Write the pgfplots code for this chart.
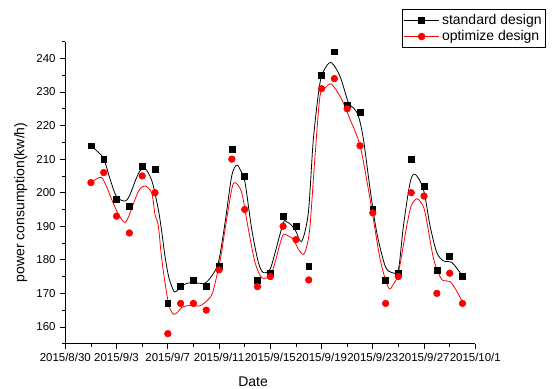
\documentclass[border=0pt]{standalone}
\usepackage{pgfplots}
\pgfplotsset{compat=1.18}
\usepackage{pgfplotstable}
\usepackage{fontspec}
\setmainfont{Liberation Sans}

% day index: 0 = 2015/8/30, 2 = 2015/9/1, ...
\pgfplotstableread{
d std opt
2 214 203
3 210 206
4 198 193
5 196 188
6 208 205
7 207 200
8 167 158
9 172 167
10 174 167
11 172 165
12 178 177
13 213 210
14 205 195
15 174 172
16 176 175
17 193 190
18 190 186
19 178 174
20 235 231
21 242 234
22 226 225
23 224 214
24 195 194
25 174 167
26 176 175
27 210 200
28 202 199
29 177 170
30 181 176
31 175 167
}\points

\pgfplotstableread{
d v
2 214
2.5 212.3
3 210.1
3.5 204
4 198.8
4.66 197.5
5 199
5.5 203.9
5.83 206.5
6.22 207.2
6.6 205
6.87 202
7.26 195
7.5 189.1
7.78 181.1
8.05 175.2
8.3 172.2
8.56 170.4
9.09 172.2
9.5 173
9.86 173.2
10.5 173
10.9 173
11.43 175.2
11.95 179.2
12.47 191.1
12.99 205
13.38 208.2
13.7 206.5
14.03 203
14.55 189.1
15.07 179.2
15.46 176.2
15.98 177.2
16.4 182.5
17.02 191.1
17.28 191.3
17.6 190.5
18.0 188.5
18.45 185.5
18.97 194.1
19.36 215.9
19.88 232.8
20.35 237.5
20.79 238.7
21.44 234.7
22.1 226.8
22.49 225.3
22.88 222.8
23.27 215.9
23.79 201
24.31 188.1
24.96 178.2
25.48 176.2
26.0 177.2
26.39 190.1
26.91 203
27.3 205.5
27.95 201
28.47 190.1
28.99 182.2
29.51 179.7
30.16 179.2
30.81 176.2
31 175.2
}\stdcurve

\pgfplotstableread{
d v
2.05 203.2
2.5 204.2
2.84 204.5
3.2 202
3.62 198
4.14 193.6
4.66 191.1
5.05 193.9
5.44 198
5.8 201
6.22 202
6.74 200
7.0 193.5
7.26 190.1
7.5 181.1
7.78 173.2
8.1 166.3
8.43 163.8
8.75 164.3
9.09 165.8
9.5 166.3
9.86 166.4
10.52 166.3
11.17 168.2
11.5 170.2
11.82 175.2
12.15 181.1
12.47 189.1
12.99 201
13.25 203
13.77 200
14.29 189.1
14.81 179.2
15.33 174.7
15.98 175.2
16.37 179.2
16.7 184
17.02 187.6
17.4 187.1
17.8 186.1
18.2 183.1
18.58 181.6
18.85 184.1
19.1 190.1
19.49 210.9
19.88 228.8
20.3 231.3
20.79 232.3
21.57 227.8
22.22 221.9
23.01 213.9
23.79 198
24.57 180.2
25.22 171.7
25.6 172.7
26.0 176.2
26.65 190.1
27.0 196.1
27.43 198.2
27.75 197.1
28.08 194.1
28.73 180.5
29.25 175
29.51 173.8
30.03 173.5
30.5 171
30.81 168.8
31 167.5
}\optcurve

\begin{document}
\begin{tikzpicture}
\useasboundingbox (-48.98pt,-33.98pt) rectangle (368.77pt,257.77pt);
\begin{axis}[
  scale only axis,
  width=307.5pt, height=226.5pt,
  xmin=0, xmax=32, ymin=155, ymax=245,
  axis x line*=bottom, axis y line*=left,
  axis line style={line width=0.75pt},
  tick align=outside,
  major tick length=3.75pt, minor tick length=2.25pt,
  tick style={line width=0.6pt, black},
  xtick={0,4,...,32},
  xticklabels={2015/8/30,2015/9/3,2015/9/7,2015/9/11,2015/9/15,2015/9/19,2015/9/23,2015/9/27,2015/10/1},
  minor xtick={2,6,...,30},
  ytick={160,170,...,240},
  minor ytick={155,165,...,245},
  /pgf/number format/assume math mode=true,
  ticklabel style={font=\fontsize{8.6}{10}\selectfont},
  xlabel={Date}, ylabel={power consumption(kw/h)},
  label style={font=\fontsize{10.5}{12}\selectfont},
  xlabel style={at={(axis description cs:0.458,-0.1420)}, anchor=south, inner sep=0pt},
  ylabel style={at={(axis description cs:-0.1089,0.468)}, anchor=center},
  legend style={at={(axis description cs:1.1724,1.1072)}, anchor=north east,
    draw=black, line width=0.5pt, inner xsep=1pt, inner ysep=1.5pt,
    font=\fontsize{10.5}{12}\selectfont, cells={anchor=west},
    row sep=-1pt},
  legend image code/.code={
    \draw[#1, mark repeat=2, mark phase=2] plot coordinates {(0pt,0pt) (13pt,0pt) (26pt,0pt)};
  },
  clip=false,
]
\addlegendimage{black, line width=0.6pt, mark=square*, mark size=2.2pt, mark options={solid}}
\addlegendentry{standard design}
\addlegendimage{red, line width=0.6pt, mark=*, mark size=2.5pt, mark options={solid}}
\addlegendentry{optimize design}

\addplot[black, line width=0.6pt, smooth, forget plot] table[x=d, y=v] {\stdcurve};
\addplot[red, line width=0.6pt, smooth, forget plot] table[x=d, y=v] {\optcurve};
\addplot[only marks, mark=square*, mark size=2.2pt, black, forget plot] table[x=d, y=std] {\points};
\addplot[only marks, mark=*, mark size=2.5pt, red, forget plot] table[x=d, y=opt] {\points};
\end{axis}
\end{tikzpicture}
\end{document}
